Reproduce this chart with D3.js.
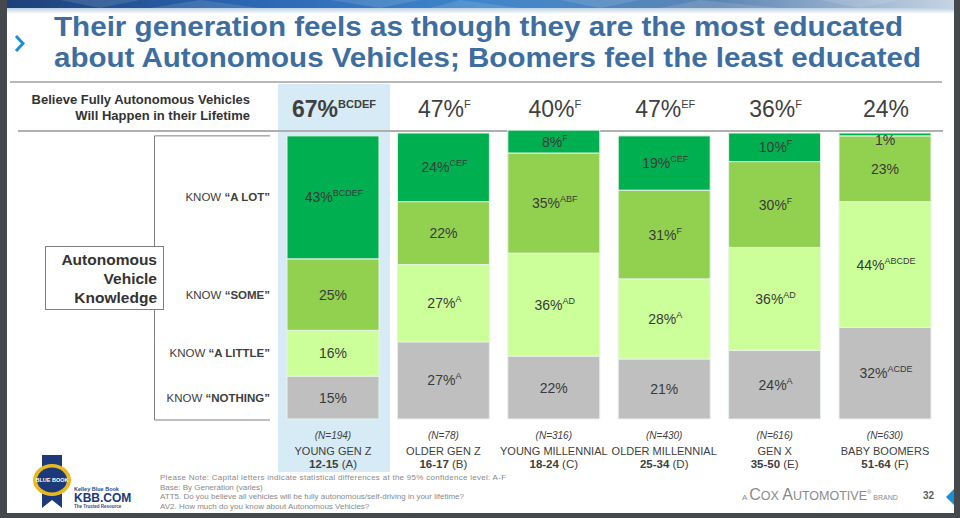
<!DOCTYPE html>
<html>
<head>
<meta charset="utf-8">
<script src="https://cdn.jsdelivr.net/npm/d3@7"></script>
<style>
  html, body { margin: 0; padding: 0; background: #ffffff; }
  svg { display: block; font-family: "Liberation Sans", Arial, Helvetica, sans-serif; }
</style>
</head>
<body>
<svg id="chart" width="960" height="518"></svg>
<script>
// ---------------- DATA ----------------
const titleLines = [
  "Their generation feels as though they are the most educated",
  "about Autonomous Vehicles; Boomers feel the least educated"
];
const groupLetters = ["A", "B", "C", "D", "E", "F"];
const generations = ["YOUNG GEN Z", "OLDER GEN Z", "YOUNG MILLENNIAL", "OLDER MILLENNIAL", "GEN X", "BABY BOOMERS"];
const ageRanges = ["12-15", "16-17", "18-24", "25-34", "35-50", "51-64"];
const sampleSizes = [194, 78, 316, 430, 616, 630];

const believePct = [67, 47, 40, 47, 36, 24];
const believeSig = ["BCDEF", "F", "F", "EF", "F", ""];

const knowledgeLevels = ["NOTHING", "A LITTLE", "SOME", "A LOT"];   // bottom -> top
const knowNothing = [15, 27, 22, 21, 24, 32];
const knowNothingSig = ["", "A", "", "", "A", "ACDE"];
const knowLittle = [16, 27, 36, 28, 36, 44];
const knowLittleSig = ["", "A", "AD", "A", "AD", "ABCDE"];
const knowSome = [25, 22, 35, 31, 30, 23];
const knowSomeSig = ["", "", "ABF", "F", "F", ""];
const knowLot = [43, 24, 8, 19, 10, 1];
const knowLotSig = ["BCDEF", "CEF", "F", "CEF", "F", ""];

const levelColors = ["#bfbfbf", "#ccff99", "#92d050", "#00b050"];

const footnotes = [
  "Please Note: Capital letters indicate statistical differences at the 95% confidence level: A-F",
  "Base: By Generation (varies)",
  "ATT5. Do you believe all vehicles will be fully autonomous/self-driving in your lifetime?",
  "AV2. How much do you know about Autonomous Vehicles?"
];

// ---------------- BUILD ----------------
const svg = d3.select("#chart");
const W = 960, H = 518;

const seriesVals = [knowNothing, knowLittle, knowSome, knowLot];
const seriesSig = [knowNothingSig, knowLittleSig, knowSomeSig, knowLotSig];
const rows = groupLetters.map((g, i) => {
  const r = { group: g };
  knowledgeLevels.forEach((k, j) => { r[k] = seriesVals[j][i]; });
  return r;
});
const stacked = d3.stack().keys(knowledgeLevels)(rows);

const x = d3.scaleBand().domain(groupLetters).range([278, 940]).paddingInner(0.1667).paddingOuter(0.0815);
const y = d3.scaleLinear().domain([0, 100]).range([419, 133]);

// --- frame / banner
const defs = svg.append("defs");
const bg = defs.append("linearGradient").attr("id", "banner").attr("x1", 0).attr("x2", 1).attr("y1", 0).attr("y2", 0);
bg.append("stop").attr("offset", "0%").attr("stop-color", "#1d3f78");
bg.append("stop").attr("offset", "25%").attr("stop-color", "#2a66b0");
bg.append("stop").attr("offset", "50%").attr("stop-color", "#3f86cc");
bg.append("stop").attr("offset", "75%").attr("stop-color", "#5e86b4");
bg.append("stop").attr("offset", "100%").attr("stop-color", "#c9d6e4");
const bg2 = defs.append("linearGradient").attr("id", "bannerFade").attr("x1", 0).attr("x2", 0).attr("y1", 0).attr("y2", 1);
bg2.append("stop").attr("offset", "0%").attr("stop-color", "#bcd0e3");
bg2.append("stop").attr("offset", "100%").attr("stop-color", "#ffffff");

svg.append("rect").attr("x", 0).attr("y", 0).attr("width", W).attr("height", H).attr("fill", "#ffffff");
svg.append("rect").attr("x", 0).attr("y", 0).attr("width", W).attr("height", 8).attr("fill", "url(#banner)");
svg.append("rect").attr("x", 0).attr("y", 8).attr("width", W).attr("height", 6).attr("fill", "url(#bannerFade)");
const facets = [
  [[60, 0], [140, 0], [100, 8]], [[200, 0], [260, 8], [150, 8]], [[330, 0], [420, 0], [380, 8]],
  [[460, 0], [520, 8], [430, 8]], [[560, 0], [640, 0], [600, 8]], [[700, 0], [780, 8], [660, 8]],
  [[820, 0], [900, 0], [860, 8]]
];
svg.selectAll("polygon.facet").data(facets).join("polygon").attr("class", "facet")
  .attr("points", d => d.map(p => p.join(",")).join(" "))
  .attr("fill", "#ffffff").attr("fill-opacity", 0.12);

// --- title
svg.append("path").attr("d", "M16,36 L23,43.5 L16,51").attr("fill", "none")
  .attr("stroke", "#1b8fd2").attr("stroke-width", 3);
const titleWidths = [849, 867];
svg.selectAll("text.title").data(titleLines).join("text").attr("class", "title")
  .attr("x", 54).attr("y", (d, i) => 36 + i * 31)
  .attr("font-family", "'Liberation Sans Narrow', 'Liberation Sans', Arial, sans-serif")
  .attr("font-size", 28).attr("font-weight", "bold").attr("fill", "#3d6e9f")
  .attr("textLength", (d, i) => titleWidths[i]).attr("lengthAdjust", "spacingAndGlyphs")
  .text(d => d);
svg.append("line").attr("x1", 10).attr("x2", 942).attr("y1", 82).attr("y2", 82)
  .attr("stroke", "#b8b8b8").attr("stroke-width", 2);

// --- highlight band for group A
svg.append("rect").attr("x", x("A") - 9).attr("y", 84)
  .attr("width", x.bandwidth() + 20).attr("height", 472 - 84).attr("fill", "#d6ebf6");

// --- header row
const hdr = svg.append("g").attr("fill", "#333333").attr("font-weight", "bold").attr("font-size", 13).attr("text-anchor", "end");
hdr.append("text").attr("x", 250).attr("y", 104).text("Believe Fully Autonomous Vehicles");
hdr.append("text").attr("x", 250).attr("y", 120).text("Will Happen in their Lifetime");
svg.append("line").attr("x1", 18).attr("x2", 943).attr("y1", 131).attr("y2", 131)
  .attr("stroke", "#b0b0b0").attr("stroke-width", 2);

const hp = svg.selectAll("text.believe").data(groupLetters).join("text").attr("class", "believe")
  .attr("x", d => x(d) + x.bandwidth() / 2 + 1).attr("y", 117)
  .attr("text-anchor", "middle").attr("fill", "#404040")
  .attr("font-weight", (d, i) => i === 0 ? "bold" : "normal");
hp.append("tspan").attr("font-size", 23).text((d, i) => believePct[i] + "%");
hp.append("tspan").attr("font-size", 11).attr("dy", -9).text((d, i) => believeSig[i]);

// --- stacked bars
const layers = svg.append("g").selectAll("g.layer").data(stacked).join("g").attr("class", "layer")
  .attr("fill", (d, i) => levelColors[i]);
layers.selectAll("rect").data(d => d).join("rect")
  .attr("x", d => x(d.data.group))
  .attr("width", x.bandwidth())
  .attr("y", d => y(d[1]))
  .attr("height", d => y(d[0]) - y(d[1]))
  .attr("stroke", "#e8f3e8").attr("stroke-width", 1);

// segment labels
const lbl = svg.append("g").attr("fill", "#3a3a3a").attr("text-anchor", "middle");
stacked.forEach((layer, j) => {
  layer.forEach((d, i) => {
    const top = y(d[1]), bot = y(d[0]);
    const cy = Math.max((top + bot) / 2, top + 7);
    const t = lbl.append("text")
      .attr("x", x(d.data.group) + x.bandwidth() / 2 + (seriesSig[j][i] ? 1 : 0))
      .attr("y", cy + 5);
    t.append("tspan").attr("font-size", 14).text(seriesVals[j][i] + "%");
    if (seriesSig[j][i]) t.append("tspan").attr("font-size", 9).attr("dy", -6).text(seriesSig[j][i]);
  });
});

// --- left side row labels, bracket & box
const aStack = stacked.map(l => l[0]);
const rowLab = svg.append("g").attr("fill", "#404040").attr("font-size", 11.5).attr("text-anchor", "end");
knowledgeLevels.forEach((k, j) => {
  const d = aStack[j];
  const t = rowLab.append("text").attr("x", 270).attr("y", (y(d[0]) + y(d[1])) / 2 + 4);
  t.append("tspan").text("KNOW ");
  t.append("tspan").attr("font-weight", "bold").text("\u201C" + k + "\u201D");
});
const br = svg.append("g").attr("fill", "none").attr("stroke", "#808080").attr("stroke-width", 1);
br.append("path").attr("d", `M270,${y(aStack[3][1])} H154.5 V420 H270`);
svg.append("rect").attr("x", 45.5).attr("y", 246.5).attr("width", 118).attr("height", 63)
  .attr("fill", "#ffffff").attr("stroke", "#808080").attr("stroke-width", 1);
const boxT = svg.append("g").attr("fill", "#333333").attr("font-weight", "bold").attr("font-size", 15.5).attr("text-anchor", "end");
["Autonomous", "Vehicle", "Knowledge"].forEach((s, i) => {
  boxT.append("text").attr("x", 157).attr("y", 265 + i * 19).text(s);
});

// --- bottom category labels
const cat = svg.append("g").attr("fill", "#404040").attr("text-anchor", "middle");
groupLetters.forEach((g, i) => {
  const cx = x(g) + x.bandwidth() / 2;
  cat.append("text").attr("x", cx).attr("y", 439).attr("font-size", 10).attr("font-style", "italic")
    .text("(N=" + sampleSizes[i] + ")");
  cat.append("text").attr("x", cx).attr("y", 455).attr("font-size", 11).text(generations[i]);
  const t = cat.append("text").attr("x", cx).attr("y", 468).attr("font-size", 11.5);
  t.append("tspan").attr("font-weight", "bold").text(ageRanges[i]);
  t.append("tspan").text(" (" + g + ")");
});

// --- footnotes
svg.append("g").attr("fill", "#8a8a8a").attr("font-size", 8)
  .selectAll("text").data(footnotes).join("text")
  .attr("x", 160).attr("y", (d, i) => 480 + i * 9.7)
  .attr("letter-spacing", (d, i) => i === 0 ? 0.28 : 0)
  .text(d => d);

// --- brand
const brand = svg.append("text").attr("x", 742).attr("y", 500).attr("fill", "#8a8a8a");
brand.append("tspan").attr("font-size", 8).text("A ");
brand.append("tspan").attr("font-size", 16).text("C");
brand.append("tspan").attr("font-size", 12.5).text("OX ");
brand.append("tspan").attr("font-size", 16).text("A");
brand.append("tspan").attr("font-size", 12.5).text("UTOMOTIVE");
brand.append("tspan").attr("font-size", 6).attr("dy", -6).text("\u00AE");
brand.append("tspan").attr("font-size", 7).attr("dy", 6).text(" BRAND");
svg.append("text").attr("x", 923).attr("y", 499).attr("font-size", 10).attr("font-weight", "bold")
  .attr("fill", "#606060").text("32");
svg.append("polygon").attr("points", "946,497 956,487 956,507").attr("fill", "#1b8fd2");

// --- KBB logo (simplified)
const logo = svg.append("g");
logo.append("polygon").attr("points", "42,455 62,455 62,508 52,500 42,508").attr("fill", "#1c3a7a");
logo.append("ellipse").attr("cx", 52).attr("cy", 480).attr("rx", 19).attr("ry", 16).attr("fill", "#e8b820");
logo.append("ellipse").attr("cx", 52).attr("cy", 480).attr("rx", 15).attr("ry", 12.5).attr("fill", "#1c3a7a");
logo.append("text").attr("x", 52).attr("y", 482).attr("text-anchor", "middle").attr("font-size", 5.5)
  .attr("font-weight", "bold").attr("fill", "#ffffff").text("BLUE BOOK");
logo.append("text").attr("x", 74).attr("y", 491).attr("font-size", 5.5).attr("font-weight", "bold")
  .attr("fill", "#2a4a8a").text("Kelley Blue Book");
logo.append("text").attr("x", 74).attr("y", 502).attr("font-size", 12).attr("font-weight", "bold")
  .attr("fill", "#1c3a7a").text("KBB.COM");
logo.append("text").attr("x", 74).attr("y", 508).attr("font-size", 4.5).attr("font-weight", "bold")
  .attr("fill", "#2a4a8a").text("The Trusted Resource");

// --- slide frame (dark edges)
svg.append("rect").attr("x", 0).attr("y", 0).attr("width", 7).attr("height", H).attr("fill", "#45484d");
svg.append("rect").attr("x", 954).attr("y", 0).attr("width", 6).attr("height", H).attr("fill", "#45484d");
svg.append("rect").attr("x", 0).attr("y", 513).attr("width", W).attr("height", 5).attr("fill", "#45484d");
</script>
</body>
</html>
